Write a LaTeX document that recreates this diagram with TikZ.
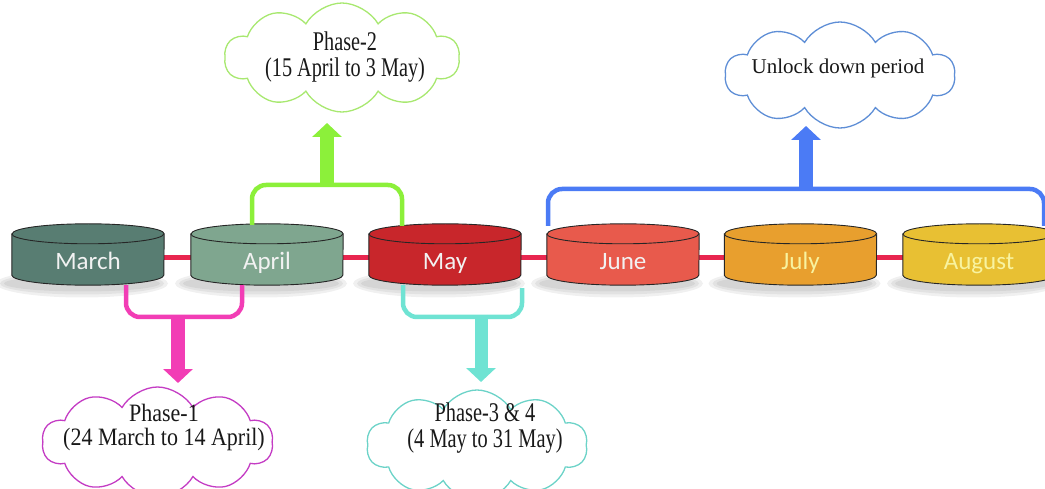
\documentclass[tikz,border=0pt]{standalone}
\usepackage{fontspec}
\setmainfont{Liberation Serif}
\newfontfamily\monthfont{Carlito}
\usetikzlibrary{shapes.symbols,arrows.meta,calc,backgrounds}
\definecolor{cMarch}{HTML}{587D72}
\definecolor{cApril}{HTML}{7FA68F}
\definecolor{cMay}{HTML}{C8262B}
\definecolor{cJune}{HTML}{E85A4C}
\definecolor{cJuly}{HTML}{E89F2E}
\definecolor{cAugust}{HTML}{E8C033}
\definecolor{lineRed}{HTML}{E8264F}
\definecolor{gBr}{HTML}{8CF03A}
\definecolor{gCloud}{HTML}{A8E870}
\definecolor{bBr}{HTML}{4B7BF5}
\definecolor{bCloud}{HTML}{5E8ED6}
\definecolor{pBr}{HTML}{F23DB5}
\definecolor{pCloud}{HTML}{C43CC4}
\definecolor{cBr}{HTML}{6FE3D3}
\definecolor{cCloud}{HTML}{6CD3C8}
\definecolor{paleText}{HTML}{F8F3A0}
\begin{document}
\begin{tikzpicture}[x=1pt,y=1pt,
  month/.style={minimum width=152pt,minimum height=51pt,inner sep=0pt,
    text height=20pt,text depth=0pt,
    font=\monthfont\fontsize{25}{25}\selectfont},
  cyl/.style={draw=black!85,line width=0.9pt},
  redline/.style={draw=lineRed,line width=5pt},
  bracket/.style={line width=4.5pt,rounded corners=14pt},
  fatarrow/.style={line width=14pt,-{Triangle[width=29pt,length=14pt]}},
  cloudbox/.style={cloud,cloud puffs=10,cloud puff arc=120,cloud ignores aspect,
    draw,fill=white,line width=1.3pt,inner sep=0pt},
  cloudtext/.style={text=black!90,inner sep=0pt,font=\fontsize{27}{25}\selectfont},
]
\useasboundingbox (0,0) rectangle (1045,-489);
\clip (0,0) rectangle (1045,-489);

% month nodes
\node[month,text=white!95!black] (March) at (88,-259.5) {March};
\node[month,text=white!95!black] (April) at (267,-259.5) {April};
\node[month,text=white!95!black] (May) at (445,-259.5) {May};
\node[month,text=white!95!black] (June) at (623,-259.5) {June};
\node[month,text=paleText] (July) at (800.5,-259.5) {July};
\node[month,text=paleText] (August) at (979,-259.5) {August};

\begin{scope}[on background layer]
  \foreach \n in {March,April,May,June,July,August}{
    \fill[black,opacity=0.06] ([xshift=-6pt,yshift=-24pt]\n.center) ellipse[x radius=86,y radius=14];
    \fill[black,opacity=0.06] ([xshift=-6pt,yshift=-24pt]\n.center) ellipse[x radius=82,y radius=11];
    \fill[black,opacity=0.06] ([xshift=-6pt,yshift=-24pt]\n.center) ellipse[x radius=78,y radius=8];
  }
  \draw[redline] ([yshift=2pt]March.east) -- ([yshift=2pt]April.west);
  \draw[redline] ([yshift=2pt]April.east) -- ([yshift=2pt]May.west);
  \draw[redline] ([yshift=2pt]May.east) -- ([yshift=2pt]June.west);
  \draw[redline] ([yshift=2pt]June.east) -- ([yshift=2pt]July.west);
  \draw[redline] ([yshift=2pt]July.east) -- ([yshift=2pt]August.west);
  \foreach \n/\c in {March/cMarch,April/cApril,May/cMay,June/cJune,July/cJuly,August/cAugust}{
    \filldraw[cyl,fill=\c] (\n.north west) -- ([yshift=10pt]\n.south west)
      arc[start angle=180,end angle=360,x radius=76,y radius=10]
      -- (\n.north east) arc[start angle=0,end angle=180,x radius=76,y radius=10] -- cycle;
    \draw[cyl] (\n.north west) arc[start angle=180,end angle=360,x radius=76,y radius=10];
  }
\end{scope}

% clouds
\node[cloudbox,draw=gCloud,minimum width=235pt,minimum height=109pt] (P2c) at (342,-57.5) {};
\node[cloudtext] (P2) at (345,-58) {\scalebox{.75}[1]{\begin{tabular}{@{}c@{}}Phase-2\\(15 April to 3 May)\end{tabular}}};

\node[cloudbox,draw=bCloud,minimum width=230pt,minimum height=106pt] (ULc) at (840,-75) {};
\node[cloudtext,font=\fontsize{21}{25}\selectfont] (UL) at (838,-69) {\begin{tabular}{@{}c@{}}Unlock down period\end{tabular}};

\node[cloudbox,draw=pCloud,minimum width=231pt,minimum height=110pt] (P1c) at (157.5,-442) {};
\node[cloudtext,font=\fontsize{25}{24}\selectfont] (P1) at (164,-428.5) {\scalebox{.88}[1]{\begin{tabular}{@{}c@{}}Phase-1\\(24 March to 14 April)\end{tabular}}};

\node[cloudbox,draw=cCloud,minimum width=221pt,minimum height=110pt] (P3c) at (477,-445) {};
\node[cloudtext] (P3) at (485,-428.5) {\scalebox{.755}[1]{\begin{tabular}{@{}c@{}}Phase-3 \& 4\\(4 May to 31 May)\end{tabular}}};

% green bracket (April-May) -> Phase-2
\coordinate (gL) at ([xshift=-15pt,yshift=9pt]April.north);
\coordinate (gR) at ([xshift=-43pt,yshift=8pt]May.north);
\coordinate (gT) at (327,-185);
\coordinate (gTip) at (327,-123);
\draw[bracket,gBr] (gL) -- (gL |- gT) -- (gR |- gT) -- (gR);
\draw[fatarrow,gBr] ([yshift=-2pt]gT) -- (gTip);

% blue bracket (June-August) -> Unlock down
\coordinate (bL) at ([xshift=-75pt,yshift=8pt]June.north);
\coordinate (bR) at ([xshift=65pt,yshift=8pt]August.north);
\coordinate (bT) at (806,-189);
\coordinate (bTip) at (806,-126);
\draw[bracket,bBr] (bL) -- (bL |- bT) -- (bR |- bT) -- (bR);
\draw[fatarrow,bBr] ([yshift=-2pt]bT) -- (bTip);

% pink bracket (March-April) -> Phase-1
\coordinate (pL) at ([xshift=38pt]March.south);
\coordinate (pR) at ([xshift=-25pt]April.south);
\coordinate (pT) at (178,-317);
\coordinate (pTip) at (178,-383);
\draw[bracket,pBr] (pL) -- (pL |- pT) -- (pR |- pT) -- (pR);
\draw[fatarrow,pBr] ([yshift=2pt]pT) -- (pTip);

% cyan bracket (May) -> Phase-3 & 4
\coordinate (cL) at ([xshift=-42pt]May.south);
\coordinate (cR) at ([xshift=77pt,yshift=-3pt]May.south);
\coordinate (cT) at (481,-317);
\coordinate (cTip) at (481,-382);
\draw[bracket,cBr] (cL) -- (cL |- cT) -- (cR |- cT) -- (cR);
\draw[fatarrow,cBr,line width=13pt] ([yshift=2pt]cT) -- (cTip);
\end{tikzpicture}
\end{document}
